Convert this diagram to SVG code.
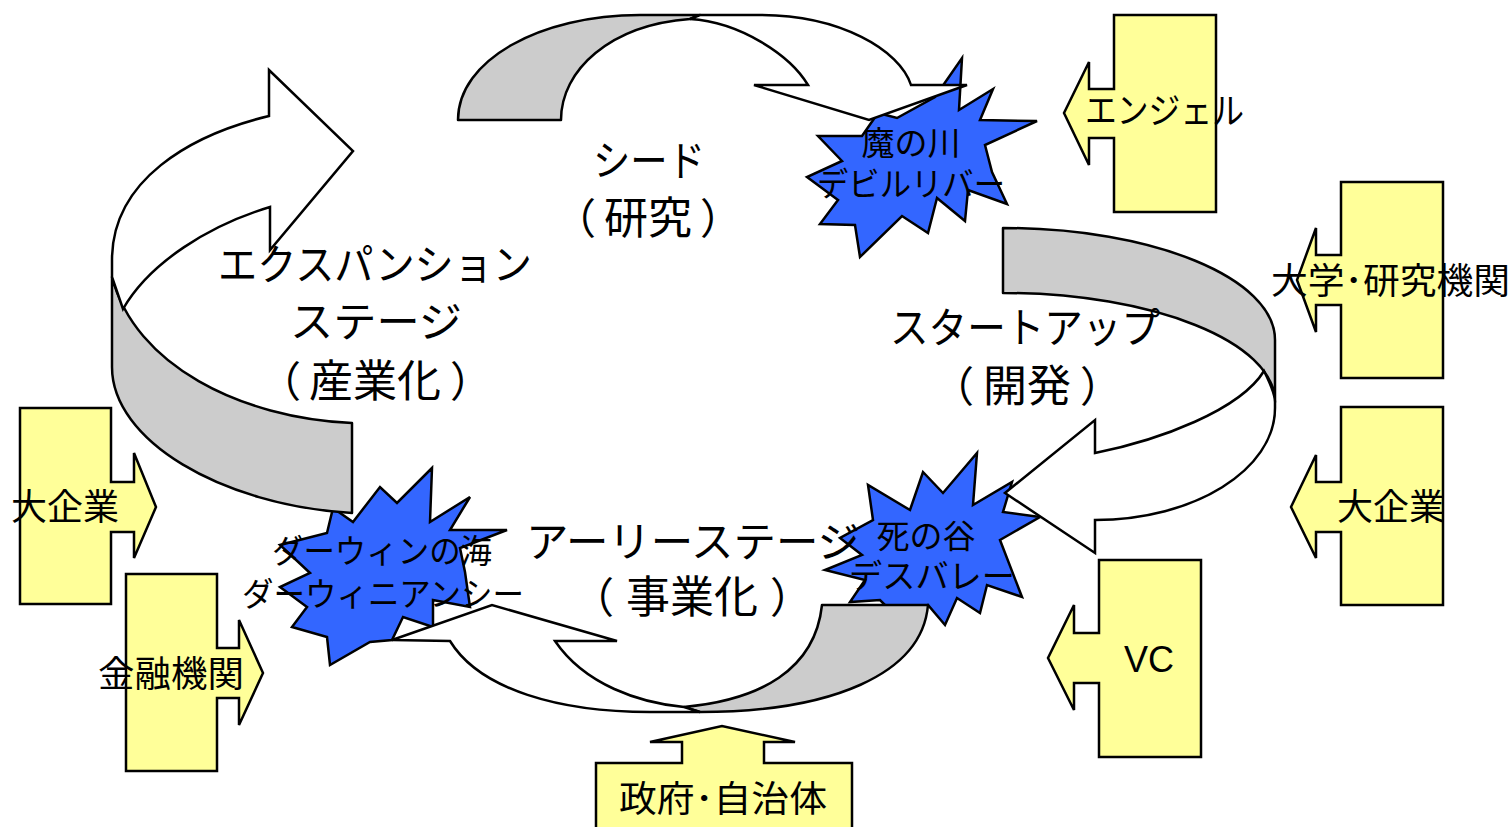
<svg xmlns="http://www.w3.org/2000/svg" width="1512" height="827" viewBox="0 0 1512 827">
<style>
.st{fill:#3366FF;stroke:#000;stroke-width:2.5;stroke-linejoin:miter}
.cb{fill:#FFFF99;stroke:#000;stroke-width:2.5;stroke-linejoin:miter}
.bk{fill:#CCCCCC;stroke:#000;stroke-width:2.5;stroke-linejoin:round}
.fr{fill:#FFFFFF;stroke:#000;stroke-width:2.5;stroke-linejoin:miter}
.big{font-family:"Liberation Sans","Noto Sans CJK JP",sans-serif;font-size:42px;fill:#000}
.kj{font-size:44px}
.mid{text-anchor:middle}
.lb{font-family:"Noto Sans CJK JP","Noto Sans",sans-serif;font-size:36px;fill:#000}
.sl{font-family:"Liberation Sans","Noto Sans CJK JP",sans-serif;font-size:33px;fill:#000}
.en{font-family:"Liberation Sans",Arial,sans-serif;font-size:36px;fill:#000}
</style>
<rect width="1512" height="827" fill="#FFFFFF"/>

<!-- stars (behind arrows) -->
<g id="star-devil-river">
<polygon class="st" points="962,58 959,110 993,89 980,120 1037,121 985,145 992,172 1007,204 968,190 965,221 937,198 928,233 902,216 860,257 855,225 820,224 838,200 807,177 842,161 818,136 862,136 878,113 897,118 935,97"/>
</g>
<g id="star-darwin-sea">
<polygon class="st" points="432,468 430,522 470,497 450,530 507,530 460,548 465,572 470,607 433,600 433,627 403,617 392,640 370,642 330,665 327,637 292,627 307,607 280,587 310,573 280,545 327,533 333,508 353,522 380,487 397,503"/>
</g>
<g id="star-death-valley">
<polygon class="st" points="977,453 973,505 1012,482 1003,512 1040,517 1000,540 1022,597 987,585 980,613 957,598 945,625 928,605 895,615 880,600 850,602 865,580 825,570 862,555 840,538 873,520 868,485 910,510 923,472 943,493"/>
</g>

<!-- cycle arrows -->
<g id="connectors">
  <g id="arrow-seed-to-startup">
    <path class="bk" d="M458,120 C458,60 540,15 640,15 L700,15 L690,19 C610,25 561,70 561,120 Z"/>
    <path class="fr" d="M690,19 L700,15 L760,15 C840,15 900,50 911,85 L967,85 L869,120 L754,85 L808,85 C790,55 740,22 690,19 Z"/>
  </g>
  <g id="arrow-startup-to-early">
    <path class="bk" d="M1003,228 C1153,228 1275,278 1275,340 L1275,402 C1275,342 1153,293 1003,293 Z"/>
    <path class="fr" d="M1264,371 C1271,385 1275,395 1275,402 L1275,408 C1275,470 1194,520 1095,520 L1095,553 L1005,493 L1095,420 L1095,453 C1160,440 1240,410 1264,371 Z"/>
  </g>
  <g id="arrow-early-to-expansion">
    <path class="bk" d="M822,605 L928,605 C922,675 830,712 700,712 L684,707 C760,700 815,670 822,605 Z"/>
    <path class="fr" d="M684,707 C640,703 585,685 555,641 L617,641 L492,605 L392,640 L450,641 C480,690 560,712 650,712 L700,712 Z"/>
  </g>
  <g id="arrow-expansion-to-seed">
    <path class="bk" d="M112,277 L112,367 C112,440 220,505 352,513 L352,423 C240,418 135,365 112,277 Z"/>
    <path class="fr" d="M112,277 L112,260 C112,180 190,135 269,116 L269,70 L353,151 L270,250 L270,207 C210,225 150,262 123,309 Z"/>
  </g>
</g>

<!-- star labels -->
<g id="label-devil-river">
<text class="sl" x="911" y="155" text-anchor="middle">魔の川</text>
<text class="sl" x="817" y="196" textLength="188" lengthAdjust="spacingAndGlyphs">デビルリバー</text>
</g>
<g id="label-darwin-sea">
<text class="sl" x="272" y="563" textLength="220" lengthAdjust="spacingAndGlyphs">ダーウィンの海</text>
<text class="sl" x="242" y="606" textLength="282" lengthAdjust="spacingAndGlyphs">ダーウィニアンシー</text>
</g>
<g id="label-death-valley">
<text class="sl" x="926" y="548" text-anchor="middle">死の谷</text>
<text class="sl" x="849" y="588" textLength="166" lengthAdjust="spacingAndGlyphs">デスバレー</text>
</g>

<!-- stage labels -->
<g id="stage-seed">
<text class="big mid" x="649" y="176" textLength="112" lengthAdjust="spacingAndGlyphs">シード</text>
<text class="big" y="234"><tspan x="554">（</tspan><tspan class="kj" x="604">研究</tspan><tspan x="700">）</tspan></text>
</g>
<g id="stage-startup">
<text class="big mid" x="1025" y="343" textLength="270" lengthAdjust="spacingAndGlyphs">スタートアップ</text>
<text class="big" y="402"><tspan x="932">（</tspan><tspan class="kj" x="983">開発</tspan><tspan x="1080">）</tspan></text>
</g>
<g id="stage-early">
<text class="big mid" x="693" y="557" textLength="334" lengthAdjust="spacingAndGlyphs">アーリーステージ</text>
<text class="big" y="613"><tspan x="572">（</tspan><tspan class="kj" x="626">事業化</tspan><tspan x="770">）</tspan></text>
</g>
<g id="stage-expansion">
<text class="big mid" x="375" y="280" textLength="314" lengthAdjust="spacingAndGlyphs">エクスパンション</text>
<text class="big mid" x="376" y="337" textLength="172" lengthAdjust="spacingAndGlyphs">ステージ</text>
<text class="big" y="397"><tspan x="259">（</tspan><tspan class="kj" x="309">産業化</tspan><tspan x="450">）</tspan></text>
</g>

<!-- supporters -->
<g id="angel">
<polygon class="cb" points="1114,15 1216,15 1216,212 1114,212 1114,138 1089,138 1089,165 1064,113 1089,62 1089,89 1114,89"/>
<text class="lb" x="1085" y="124" textLength="159" lengthAdjust="spacingAndGlyphs">エンジェル</text>
</g>
<g id="university">
<polygon class="cb" points="1341,182 1443,182 1443,378 1341,378 1341,305 1316,305 1316,332 1297,280 1316,228 1316,255 1341,255"/>
<text class="lb" x="1271" y="294" textLength="239" lengthAdjust="spacingAndGlyphs">大学･研究機関</text>
</g>
<g id="large-company-right">
<polygon class="cb" points="1341,407 1443,407 1443,605 1341,605 1341,532 1316,532 1316,558 1291,507 1316,455 1316,482 1341,482"/>
<text class="lb" x="1337" y="520">大企業</text>
</g>
<g id="vc">
<polygon class="cb" points="1099,560 1201,560 1201,757 1099,757 1099,683 1074,683 1074,710 1048,658 1074,605 1074,633 1099,633"/>
<text class="en" x="1124" y="672">VC</text>
</g>
<g id="large-company-left">
<polygon class="cb" points="20,408 111,408 111,482 134,482 134,453 156,507 134,558 134,532 111,532 111,604 20,604"/>
<text class="lb" x="11" y="520">大企業</text>
</g>
<g id="financial">
<polygon class="cb" points="126,574 217,574 217,648 239,648 239,620 263,673 239,725 239,698 217,698 217,771 126,771"/>
<text class="lb" x="98" y="687" textLength="146" lengthAdjust="spacingAndGlyphs">金融機関</text>
</g>
<g id="government">
<polygon class="cb" points="596,763 682,763 682,742 650,742 722,726 795,742 764,742 764,763 852,763 852,832 596,832"/>
<text class="lb" x="619" y="812" textLength="208" lengthAdjust="spacingAndGlyphs">政府･自治体</text>
</g>
</svg>
